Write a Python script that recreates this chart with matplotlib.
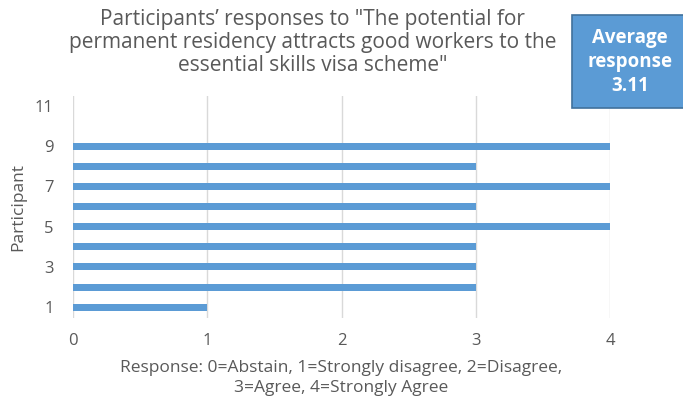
import matplotlib as mpl
mpl.use("Agg")
import matplotlib.pyplot as plt
from matplotlib.patches import FancyBboxPatch

plt.rcParams["font.family"] = ["Open Sans", "DejaVu Sans"]

participants = [1, 2, 3, 4, 5, 6, 7, 8, 9]
responses = [1, 3, 3, 3, 4, 3, 4, 3, 4]
yticks = [1, 3, 5, 7, 9, 11]
xticks = [0, 1, 2, 3, 4]

TITLE = ("Participants\u2019 responses to \"The potential for\n"
         "permanent residency attracts good workers to the\n"
         "essential skills visa scheme\"")
XLABEL = ("Response: 0=Abstain, 1=Strongly disagree, 2=Disagree,\n"
          "3=Agree, 4=Strongly Agree")

BAR = "#5b9bd5"
TEXT = "#595959"
GRID = "#d9d9d9"

fig = plt.figure(figsize=(6.83, 4.0), dpi=100)
ax = fig.add_axes([73 / 683, 82 / 400, 537 / 683, 222 / 400])

ax.barh(participants, responses, height=0.35, color=BAR, zorder=2)

ax.set_xlim(0, 4)
ax.set_ylim(0.46, 11.5)
ax.set_xticks(xticks)
ax.set_yticks(yticks)
ax.grid(axis="x", color=GRID, linewidth=1, zorder=0)
for s in ax.spines.values():
	s.set_visible(False)
ax.tick_params(length=0, labelsize=12, colors=TEXT, pad=11)
ax.tick_params(axis="y", pad=14)

ax.set_ylabel("Participant", fontsize=12.5, color=TEXT, labelpad=6)
ax.set_xlabel(XLABEL, fontsize=12.5, color=TEXT, labelpad=8, linespacing=1.3)

fig.text(0.458, 0.978, TITLE, ha="center", va="top", fontsize=15,
	color=TEXT, linespacing=1.12)

# Average response box in the top right corner
box = FancyBboxPatch((572 / 683, 1 - 108 / 400), 114 / 683, 93 / 400,
	boxstyle="square,pad=0", transform=fig.transFigure,
	facecolor=BAR, edgecolor="#41719c", linewidth=1.2, clip_on=False)
fig.patches.append(box)
fig.text(630 / 683, 1 - 62 / 400, "Average\nresponse\n%.2f" % (sum(responses) / len(responses)),
	ha="center", va="center", fontsize=13.5, fontweight="bold", color="white",
	linespacing=1.25)

fig.savefig("out.png", dpi=100)
